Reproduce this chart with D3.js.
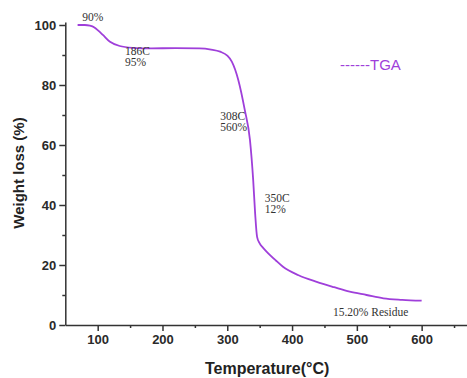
<!DOCTYPE html>
<html>
<head>
<meta charset="utf-8">
<script src="https://cdn.jsdelivr.net/npm/d3@7"></script>
<style>
  html, body { margin: 0; padding: 0; background: #fff; }
  svg { display: block; }
  .tick text { font-family: "Liberation Sans", Arial, sans-serif; font-weight: bold; font-size: 13px; fill: #2a2a2a; }
  .axis path, .axis line { stroke: #333; stroke-width: 1.5; }
  .note { font-family: "Liberation Serif", "Times New Roman", serif; font-size: 11.5px; fill: #333; }
</style>
</head>
<body>
<div id="chart"></div>
<script>
// TGA curve
const temps = [69, 80, 88, 95, 100, 108, 119, 134, 154, 180, 220, 257, 275, 289, 300, 307, 317, 327, 335, 340, 343, 346, 350, 355, 361, 375, 386, 410, 438, 465, 489, 515, 541, 570, 600];
const weights = [100, 100, 99.8, 99.2, 98.3, 96.7, 94.4, 93, 92.4, 92.2, 92.3, 92.2, 91.8, 91.1, 89.8, 87.8, 81.7, 71.7, 61.7, 48.3, 37.2, 29.4, 27.2, 25.8, 24.4, 21.5, 19.4, 16.6, 14.4, 12.6, 11.1, 10, 8.9, 8.4, 8.1];

const xTicks = [100, 200, 300, 400, 500, 600];
const xMinor = [150, 250, 350, 450, 550, 650];
const yTicks = [0, 20, 40, 60, 80, 100];
const yMinor = [10, 30, 50, 70, 90];

// annotations: temperature, weight, lines
const notes = [
  { t: 76, w: 101.5, lines: ['90%'] },
  { t: 142, w: 90, lines: ['186C', '95%'] },
  { t: 289, w: 68.5, lines: ['308C', '560%'] },
  { t: 358, w: 41, lines: ['350C', '12%'] },
  { t: 463, w: 3, lines: ['15.20% Residue'] }
];

const W = 467, H = 378;
const svg = d3.select('#chart').append('svg')
  .attr('width', W)
  .attr('height', H);

const x = d3.scaleLinear().domain([50, 670]).range([65.3, 467]);
const y = d3.scaleLinear().domain([0, 101]).range([325, 22]);

// minor ticks first
svg.append('g')
  .attr('class', 'axis')
  .attr('transform', `translate(0,${y(0)})`)
  .call(d3.axisBottom(x).tickValues(xMinor).tickSize(3).tickFormat(''))
  .call(g => g.select('.domain').remove());
svg.append('g')
  .attr('class', 'axis')
  .attr('transform', `translate(${x(50)},0)`)
  .call(d3.axisLeft(y).tickValues(yMinor).tickSize(3).tickFormat(''))
  .call(g => g.select('.domain').remove());

// major axes
svg.append('g')
  .attr('class', 'axis')
  .attr('transform', `translate(0,${y(0)})`)
  .call(d3.axisBottom(x).tickValues(xTicks).tickSize(6).tickSizeOuter(0).tickPadding(4));
svg.append('g')
  .attr('class', 'axis')
  .attr('transform', `translate(${x(50)},0)`)
  .call(d3.axisLeft(y).tickValues(yTicks).tickSize(6).tickSizeOuter(0).tickPadding(3));

// curve
const pts = temps.map((t, i) => [t, weights[i]]);
svg.append('path')
  .datum(pts)
  .attr('fill', 'none')
  .attr('stroke', '#9f3fda')
  .attr('stroke-width', 1.8)
  .attr('d', d3.line().x(d => x(d[0])).y(d => y(d[1])).curve(d3.curveMonotoneX));

// notes, one text per line
notes.forEach(n => {
  n.lines.forEach((l, i) => {
    svg.append('text')
      .attr('class', 'note')
      .attr('x', x(n.t))
      .attr('y', y(n.w) + i * 11)
      .text(l);
  });
});

// legend
svg.append('text')
  .attr('x', 340)
  .attr('y', 70)
  .attr('font-family', '"Liberation Sans", Arial, sans-serif')
  .attr('font-size', 15)
  .attr('fill', '#9f3fda')
  .text('------TGA');

// axis titles
svg.append('text')
  .attr('x', (x(50) + 467) / 2 + 1)
  .attr('y', 374)
  .attr('text-anchor', 'middle')
  .attr('font-family', '"Liberation Sans", Arial, sans-serif')
  .attr('font-weight', 'bold')
  .attr('font-size', 16)
  .attr('fill', '#222')
  .text('Temperature(°C)');

svg.append('text')
  .attr('transform', 'translate(24,173) rotate(-90)')
  .attr('text-anchor', 'middle')
  .attr('font-family', '"Liberation Sans", Arial, sans-serif')
  .attr('font-weight', 'bold')
  .attr('font-size', 15)
  .attr('fill', '#222')
  .text('Weight loss (%)');
</script>
</body>
</html>
